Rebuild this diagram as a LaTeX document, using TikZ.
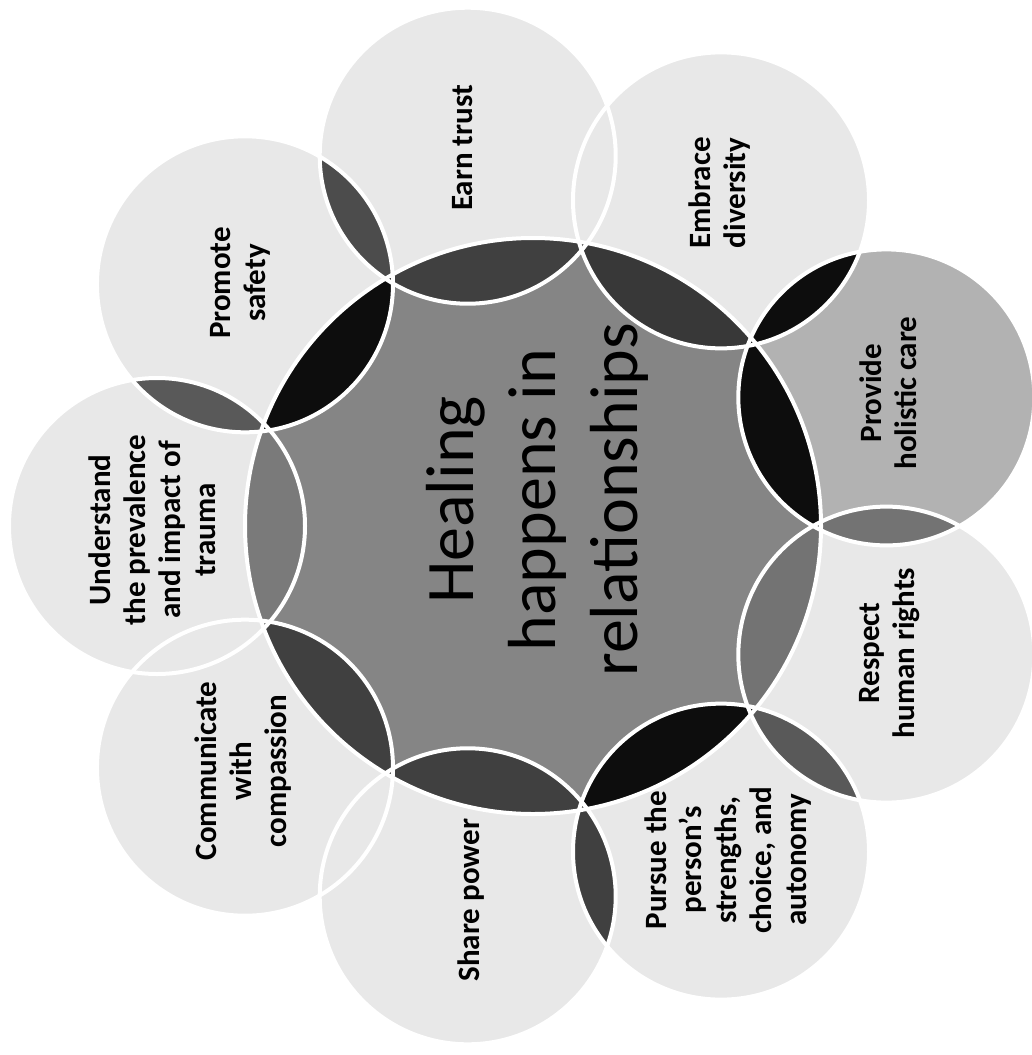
\documentclass[tikz,border=0pt]{standalone}
\usepackage{fontspec}
\setmainfont{Carlito}

\begin{document}
\begin{tikzpicture}
  [x=0.5pt,y=-0.5pt,
   lbl/.style={rotate=90,align=center,font=\bfseries\fontsize{15.5}{17.5}\selectfont},
   ring/.style={draw=white,line width=2pt}]
  \useasboundingbox (0,0) rectangle (1032,1055);

  \coordinate (c) at (533,526);
  \foreach \n/\a in {1/-100,2/-60,3/-20,4/20,5/60,6/100,7/140,8/180,9/220}
    \coordinate (o\n) at ({533+376*cos(\a)},{526+376*sin(\a)});

  % outer circles
  \foreach \n/\s in {1/9,2/9,3/30,4/9,5/9,6/9,7/9,8/9,9/9}
    \fill[black!\s] (o\n) circle (148);

  % overlaps of neighbours
  \foreach \p/\q/\s in {8/9/65,9/1/70,2/3/95,3/4/55,4/5/65,5/6/75}{
    \begin{scope}
      \clip (o\p) circle (148);
      \fill[black!\s] (o\q) circle (148);
    \end{scope}
  }

  % centre and its overlaps
  \fill[black!48] (c) circle (288);
  \begin{scope}
    \clip (c) circle (288);
    \foreach \n/\s in {1/75,2/78,3/95,4/55,5/95,6/75,7/75,8/52,9/95}
      \fill[black!\s] (o\n) circle (148);
  \end{scope}

  \foreach \n in {1,...,9}
    \draw[ring] (o\n) circle (148);
  \draw[ring] (c) circle (288);

  \node[rotate=90,align=center,font=\fontsize{34}{41}\selectfont] (mid) at (537,500)
    {Healing\\happens in\\relationships};

  \node[lbl] (t1) at (463,148) {Earn trust};
  \node[lbl] (t2) at (720,193) {Embrace\\diversity};
  \node[lbl] (t3) at (888,393) {Provide\\holistic care};
  \node[lbl] (t4) at (890,653) {Respect\\human rights};
  \node[lbl] (t5) at (728,860) {Pursue the\\person's\\strengths,\\choice, and\\autonomy};
  \node[lbl] (t6) at (471,900) {Share power};
  \node[lbl] (t7) at (243,771) {Communicate\\with\\compassion};
  \node[lbl] (t8) at (152,530) {Understand\\the prevalence\\and impact of\\trauma};
  \node[lbl] (t9) at (240,283) {Promote\\safety};

\end{tikzpicture}
\end{document}
